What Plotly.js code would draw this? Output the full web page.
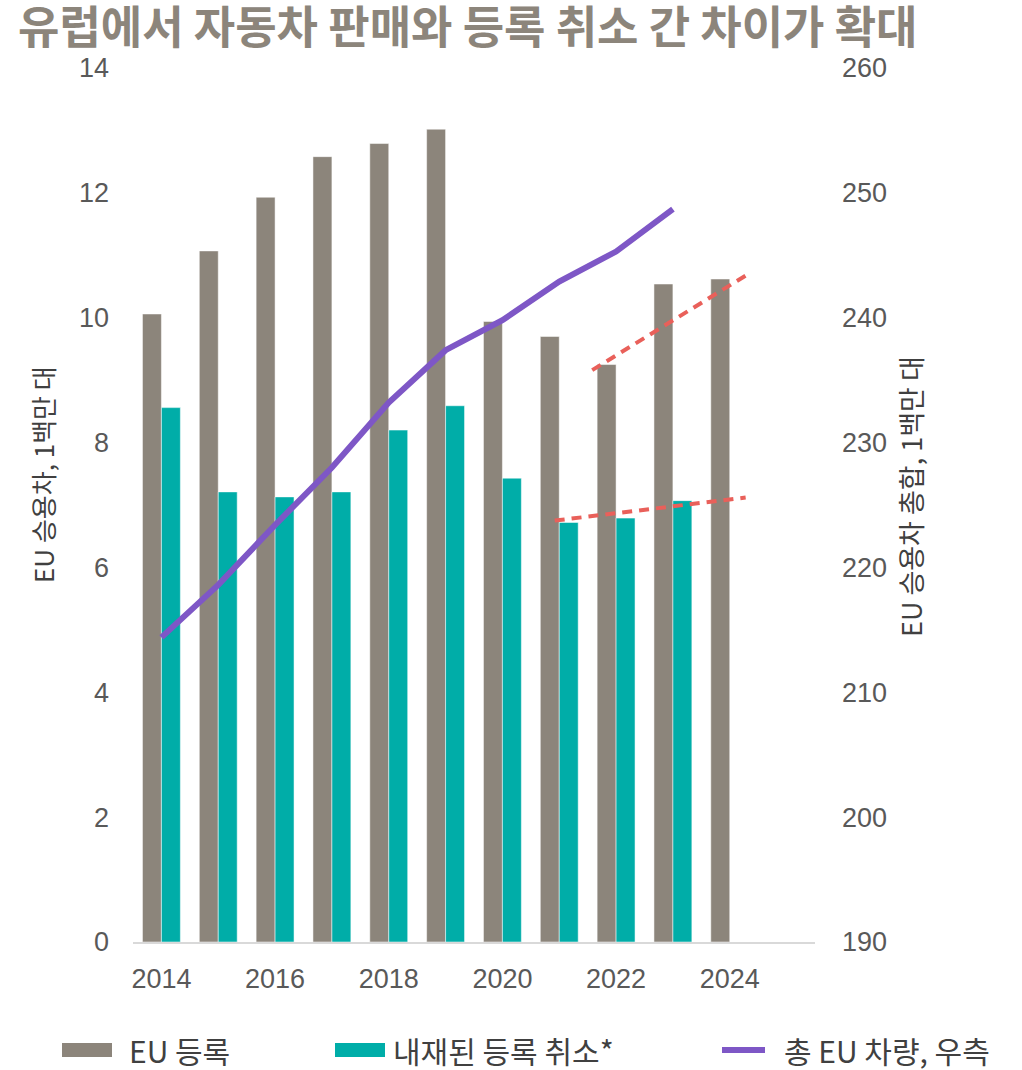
<!DOCTYPE html>
<html>
<head>
<meta charset="utf-8">
<script src="https://cdn.plot.ly/plotly-3.0.1.min.js"></script>
<style>
html,body{margin:0;padding:0;background:#fff;}
#chart{width:1022px;height:1070px;}
</style>
</head>
<body>
<div id="chart"></div>
<script>
// ---- data ----
const years = [2014, 2015, 2016, 2017, 2018, 2019, 2020, 2021, 2022, 2023, 2024];
const euRegistrations = [10.06, 11.07, 11.93, 12.58, 12.79, 13.02, 9.94, 9.70, 9.25, 10.54, 10.62];
const yearsDereg = [2014, 2015, 2016, 2017, 2018, 2019, 2020, 2021, 2022, 2023];
const impliedDeregistrations = [8.56, 7.21, 7.13, 7.21, 8.20, 8.59, 7.43, 6.72, 6.79, 7.07];
const yearsFleet = [2014, 2015, 2016, 2017, 2018, 2019, 2020, 2021, 2022, 2023];
const totalFleet = [214.4, 218.6, 223.4, 228.0, 233.2, 237.4, 239.8, 242.9, 245.3, 248.7];
const trendRegX = [2021.58, 2024.36];
const trendRegY = [9.16, 10.72];
const trendDeregX = [2020.92, 2024.28];
const trendDeregY = [6.75, 7.12];
const xTicks = [2014, 2016, 2018, 2020, 2022, 2024];
const leftTicks = [0, 2, 4, 6, 8, 10, 12, 14];
const rightTicks = [190, 200, 210, 220, 230, 240, 250, 260];

const titleText = '유럽에서 자동차 판매와 등록 취소 간 차이가 확대';
const leftTitle = 'EU 승용차, 1백만 대';
const rightTitle = 'EU 승용차 총합, 1백만 대';
const legendNames = ['EU 등록', '내재된 등록 취소*', '총 EU 차량, 우측'];

const GREY = '#8c857b', TEAL = '#00ada8', PURPLE = '#7e57c6', RED = '#e9605a';
const FONT = '"Liberation Sans", Arial, "Noto Sans CJK KR", sans-serif';
const KFONT = '"Noto Sans CJK KR", "Liberation Sans", sans-serif';

const traces = [
  {type:'bar', x: years, y: euRegistrations, name: legendNames[0], offsetgroup:'a',
   marker:{color:GREY, line:{color:'rgba(255,255,255,0.5)', width:1}}, showlegend:false},
  {type:'bar', x: yearsDereg, y: impliedDeregistrations, name: legendNames[1], offsetgroup:'b',
   marker:{color:TEAL, line:{color:'rgba(255,255,255,0.5)', width:1}}, showlegend:false},
  {type:'scatter', mode:'lines', x: yearsFleet, y: totalFleet, yaxis:'y2', name: legendNames[2],
   line:{color:PURPLE, width:6}, showlegend:false},
  {type:'scatter', mode:'lines', x: trendRegX, y: trendRegY, line:{color:RED, width:4, dash:'10px,7px'}, showlegend:false, hoverinfo:'skip'},
  {type:'scatter', mode:'lines', x: trendDeregX, y: trendDeregY, line:{color:RED, width:4, dash:'10px,7px'}, showlegend:false, hoverinfo:'skip'}
];

// plot area in pixels: x 133..815, y 68..942
const L = 133, R = 815, T = 68, B = 942;
const px = v => (v - L) / (R - L);
const py = v => (B - v) / (B - T);

const legendY = 1050;
const LSIZE = 30;
const shapes = [
  {type:'rect', xref:'paper', yref:'paper', x0:px(62), x1:px(112), y0:py(1057), y1:py(1043), fillcolor:GREY, line:{width:0}},
  {type:'rect', xref:'paper', yref:'paper', x0:px(335), x1:px(385), y0:py(1057), y1:py(1043), fillcolor:TEAL, line:{width:0}},
  {type:'line', xref:'paper', yref:'paper', x0:px(722), x1:px(765), y0:py(1050), y1:py(1050), line:{color:PURPLE, width:6}}
];

const annotations = [
  {text: legendNames[0], xref:'paper', yref:'paper', x:px(127), y:py(legendY), xanchor:'left', yanchor:'middle', showarrow:false, font:{family:KFONT, size:LSIZE, color:'#404040'}},
  {text: legendNames[1], xref:'paper', yref:'paper', x:px(391), y:py(legendY), xanchor:'left', yanchor:'middle', showarrow:false, font:{family:KFONT, size:LSIZE, color:'#404040'}},
  {text: legendNames[2], xref:'paper', yref:'paper', x:px(782), y:py(legendY), xanchor:'left', yanchor:'middle', showarrow:false, font:{family:KFONT, size:LSIZE, color:'#404040'}},
  {text: leftTitle, xref:'paper', yref:'paper', x:px(42), y:py(475), xanchor:'center', yanchor:'middle', textangle:-90, showarrow:false, font:{family:KFONT, size:26, color:'#404040'}},
  {text: rightTitle, xref:'paper', yref:'paper', x:px(910), y:py(497), xanchor:'center', yanchor:'middle', textangle:-90, showarrow:false, font:{family:KFONT, size:27, color:'#404040'}}
];

const layout = {
  width:1022, height:1070,
  margin:{l:L, r:1022-R, t:T, b:1070-B, pad:0},
  paper_bgcolor:'#fff', plot_bgcolor:'#fff',
  title:{text: '<b>'+titleText+'</b>', x: 18/1022, xanchor:'left', xref:'container', y: 1-28/1070, yanchor:'middle', yref:'container',
         font:{family:KFONT, size:45, color:GREY}},
  barmode:'group', bargap:0.333, bargroupgap:0,
  showlegend:false,
  xaxis:{range:[2013.5, 2025.5], tickmode:'array', tickvals:xTicks, ticktext:xTicks.map(String),
         showgrid:false, zeroline:false, showline:true, linecolor:'#d9d9d9', linewidth:2, ticks:'',
         tickfont:{family:FONT, size:27, color:'#595959'}, ticklabelstandoff:12, fixedrange:true},
  yaxis:{range:[0,14], tickmode:'array', tickvals:leftTicks, showgrid:false, zeroline:false, showline:false, ticks:'',
         tickfont:{family:FONT, size:27, color:'#595959'}, ticklabelstandoff:23},
  yaxis2:{range:[190,260], tickmode:'array', tickvals:rightTicks, overlaying:'y', side:'right', showgrid:false, zeroline:false, showline:false, ticks:'',
          tickfont:{family:FONT, size:27, color:'#595959'}, ticklabelstandoff:26},
  shapes: shapes,
  annotations: annotations
};

Plotly.newPlot('chart', traces, layout, {displayModeBar:false, staticPlot:true});
</script>
</body>
</html>
